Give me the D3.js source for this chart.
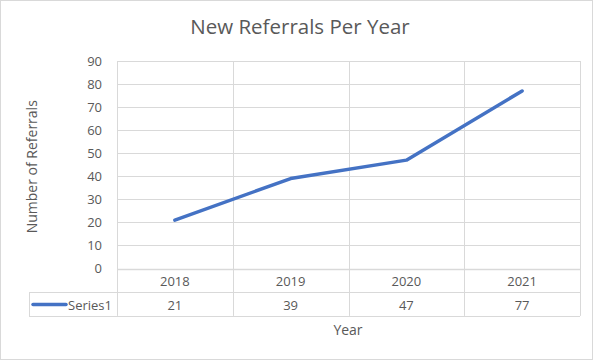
<!DOCTYPE html>
<html><head><meta charset="utf-8">
<script src="https://cdn.jsdelivr.net/npm/d3@7"></script>
<style>body{margin:0;background:#fff}svg{display:block}text{font-family:"Open Sans",sans-serif;fill:#595959}</style>
</head><body><svg id="c" width="593" height="360"></svg>
<script>
const categories = ["2018","2019","2020","2021"];
const series1 = [21,39,47,77];
const seriesName = "Series1";
const yTicks = [0,10,20,30,40,50,60,70,80,90];

(function(){
const svg = d3.select("#c");
const W=593,H=360;
const pL=117,pR=580,pT=61,pB=268.5;
const rowH=23.7;
const grid="#d9d9d9";

svg.append("rect").attr("x",0.5).attr("y",0.5).attr("width",W-1).attr("height",H-1).attr("fill","#fff").attr("stroke",grid);

const x=d3.scaleBand().domain(categories).range([pL,pR]);
const y=d3.scaleLinear().domain([0,90]).range([pB,pT]);

svg.append("g").selectAll("line").data(yTicks).join("line")
 .attr("x1",pL).attr("x2",pR).attr("y1",d=>Math.round(y(d))+0.5).attr("y2",d=>Math.round(y(d))+0.5)
 .attr("stroke",grid).attr("stroke-width",d=>d===0?1.5:1);

const bounds=categories.map(c=>x(c)).concat([pR]);
svg.append("g").selectAll("line").data(bounds).join("line")
 .attr("x1",d=>Math.round(d)+0.5).attr("x2",d=>Math.round(d)+0.5)
 .attr("y1",pT).attr("y2",pB+2*rowH)
 .attr("stroke",grid);

svg.append("line").attr("x1",29).attr("x2",pR).attr("y1",Math.round(pB+rowH)+0.5).attr("y2",Math.round(pB+rowH)+0.5).attr("stroke",grid);
svg.append("line").attr("x1",29).attr("x2",pR).attr("y1",Math.round(pB+2*rowH)+0.5).attr("y2",Math.round(pB+2*rowH)+0.5).attr("stroke",grid);
svg.append("line").attr("x1",29.5).attr("x2",29.5).attr("y1",Math.round(pB+rowH)).attr("y2",Math.round(pB+2*rowH)+1).attr("stroke",grid);

svg.append("g").selectAll("text").data(yTicks).join("text")
 .attr("x",102).attr("y",d=>y(d)).attr("dy","0.35em").attr("text-anchor","end")
 .attr("font-size",13).text(d=>d);

svg.append("g").selectAll("text").data(categories).join("text")
 .attr("x",d=>x(d)+x.bandwidth()/2).attr("y",pB+rowH/2+1).attr("dy","0.35em").attr("text-anchor","middle")
 .attr("font-size",13).text(d=>d);

svg.append("g").selectAll("text").data(series1).join("text")
 .attr("x",(d,i)=>x(categories[i])+x.bandwidth()/2).attr("y",pB+rowH*1.5+1).attr("dy","0.35em").attr("text-anchor","middle")
 .attr("font-size",13).text(d=>d);

svg.append("line").attr("x1",33).attr("x2",66).attr("y1",pB+rowH*1.5+0.5).attr("y2",pB+rowH*1.5+0.5)
 .attr("stroke","#4472C4").attr("stroke-width",3.5).attr("stroke-linecap","round");
svg.append("text").attr("x",68).attr("y",pB+rowH*1.5+1).attr("dy","0.35em").attr("font-size",13).text(seriesName);

const line=d3.line().x((d,i)=>x(categories[i])+x.bandwidth()/2).y(d=>y(d));
svg.append("path").datum(series1).attr("d",line).attr("fill","none")
 .attr("stroke","#4472C4").attr("stroke-width",3.5).attr("stroke-linecap","round").attr("stroke-linejoin","round");

svg.append("text").attr("x",300).attr("y",27).attr("dy","0.35em").attr("text-anchor","middle").attr("font-size",20.5).text("New Referrals Per Year");
svg.append("text").attr("transform","translate(32,"+((pT+pB)/2+2)+") rotate(-90)").attr("dy","0.35em").attr("text-anchor","middle").attr("font-size",14).text("Number of Referrals");
svg.append("text").attr("x",348).attr("y",330).attr("dy","0.35em").attr("text-anchor","middle").attr("font-size",14).text("Year");
})();
</script></body></html>
